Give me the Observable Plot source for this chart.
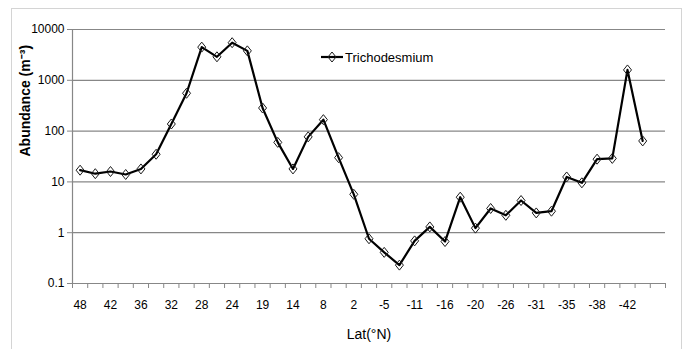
<!DOCTYPE html>
<html>
<head>
<meta charset="utf-8">
<script src="https://cdn.jsdelivr.net/npm/d3@7"></script>
<script src="https://cdn.jsdelivr.net/npm/@observablehq/plot@0.6"></script>
<style>
  html, body { margin: 0; padding: 0; background: #fff; }
  #wrap { position: relative; width: 687px; height: 349px; overflow: hidden; }
  #border { position: absolute; left: 11px; top: 8px; width: 671px; height: 380px; border: 1px solid #d4d4d4; box-sizing: border-box; }
  #chart { position: absolute; left: 0; top: 0; }
  #legend { position: absolute; left: 318px; top: 47px; font: 13px "Liberation Sans Narrow", "Arial Narrow", "Liberation Sans", sans-serif; color: #000; display: flex; align-items: center; }
  #legend svg { display: block; }
</style>
</head>
<body>
<div id="wrap">
  <div id="border"></div>
  <div id="chart"></div>
  <div id="legend"></div>
</div>
<script>
// Trichodesmium abundance (per m³) along the transect, one value per station
const abundance = [
  17, 14.5, 16, 14, 18, 35, 138, 556, 4500, 2900,
  5500, 3800, 285, 60, 18, 77, 168, 30, 5.7, 0.76,
  0.41, 0.23, 0.69, 1.3, 0.67, 5.0, 1.23, 3.0, 2.2, 4.3,
  2.45, 2.65, 12.5, 9.6, 28, 29, 1600, 64
];
// Latitude labels shown under every other station slot
const latLabels = ["48", "42", "36", "32", "28", "24", "19", "14", "8", "2",
  "-5", "-11", "-16", "-20", "-26", "-31", "-35", "-38", "-42"];
// Category slots on the x axis (one trailing slot left empty)
const slotCount = 39;
const yTicks = [0.1, 1, 10, 100, 1000, 10000];
const seriesName = "Trichodesmium";
const yTitle = "Abundance (m\u207B\u00B3)";
const xTitle = "Lat(\u00B0N)";

const data = abundance.map((v, i) => ({slot: i + 0.5, value: v}));
const boundaries = d3.range(slotCount + 1);
const labelSlots = latLabels.map((_, k) => 2 * k + 0.5);

// Hollow diamond, a little taller than wide
const diamond = {
  draw(ctx, size) {
    const h = Math.sqrt(size / Math.PI);
    const w = h * 0.8;
    ctx.moveTo(0, -h);
    ctx.lineTo(w, 0);
    ctx.lineTo(0, h);
    ctx.lineTo(-w, 0);
    ctx.closePath();
  }
};

const narrow = '"Liberation Sans Narrow", "Arial Narrow", "Liberation Sans", sans-serif';
const gridColor = "#878787";

const chart = Plot.plot({
  width: 687,
  height: 349,
  marginLeft: 72,
  marginRight: 22,
  marginTop: 29,
  marginBottom: 66,
  style: {fontFamily: narrow, fontSize: "12px", color: "#000", background: "transparent"},
  x: {type: "linear", domain: [0, slotCount], axis: null},
  y: {type: "log", domain: [yTicks[0], yTicks[yTicks.length - 1]], axis: null},
  marks: [
    Plot.gridY(yTicks.slice(1), {stroke: gridColor, strokeOpacity: 1, strokeWidth: 1.2}),
    Plot.ruleY([yTicks[0]], {stroke: gridColor, strokeWidth: 1.2}),
    Plot.ruleX([0], {stroke: gridColor, strokeWidth: 1.2}),
    Plot.axisY({ticks: yTicks, tickSize: 5, tickPadding: 3, stroke: gridColor, fill: "#000",
      tickFormat: d => String(d), label: null, fontSize: 12}),
    Plot.axisX({ticks: boundaries, tickSize: 5, stroke: gridColor, tickFormat: () => "", label: null}),
    Plot.axisX({ticks: labelSlots, tickSize: 0, tickPadding: 17, fill: "#000",
      tickFormat: (d, i) => latLabels[i], label: null, fontSize: 12}),
    Plot.line(data, {x: "slot", y: "value", stroke: "#000", strokeWidth: 2.2, curve: "linear"}),
    Plot.dot(data, {x: "slot", y: "value", symbol: diamond, r: 5, stroke: "#1a1a1a", fill: "none", strokeWidth: 1}),
    Plot.text([yTitle], {frameAnchor: "left", rotate: -90, dx: -47, fontSize: 14, fontWeight: "bold",
      fontFamily: '"Liberation Sans", Arial, sans-serif', fill: "#000"}),
    Plot.text([xTitle], {frameAnchor: "bottom", dy: 55, fontSize: 14, fill: "#000"})
  ]
});
document.getElementById("chart").appendChild(chart);

// Series legend: line with a diamond marker, then the series name
const legend = d3.select("#legend");
const key = legend.append("svg").attr("width", 26).attr("height", 20);
key.append("line").attr("x1", 3).attr("x2", 25).attr("y1", 10).attr("y2", 10)
  .attr("stroke", "#000").attr("stroke-width", 2.2);
key.append("path").attr("transform", "translate(14,10)")
  .attr("d", d3.symbol(diamond, 25 * Math.PI)())
  .attr("fill", "none").attr("stroke", "#1a1a1a");
legend.append("span").style("margin-left", "1px").text(seriesName);
</script>
</body>
</html>
